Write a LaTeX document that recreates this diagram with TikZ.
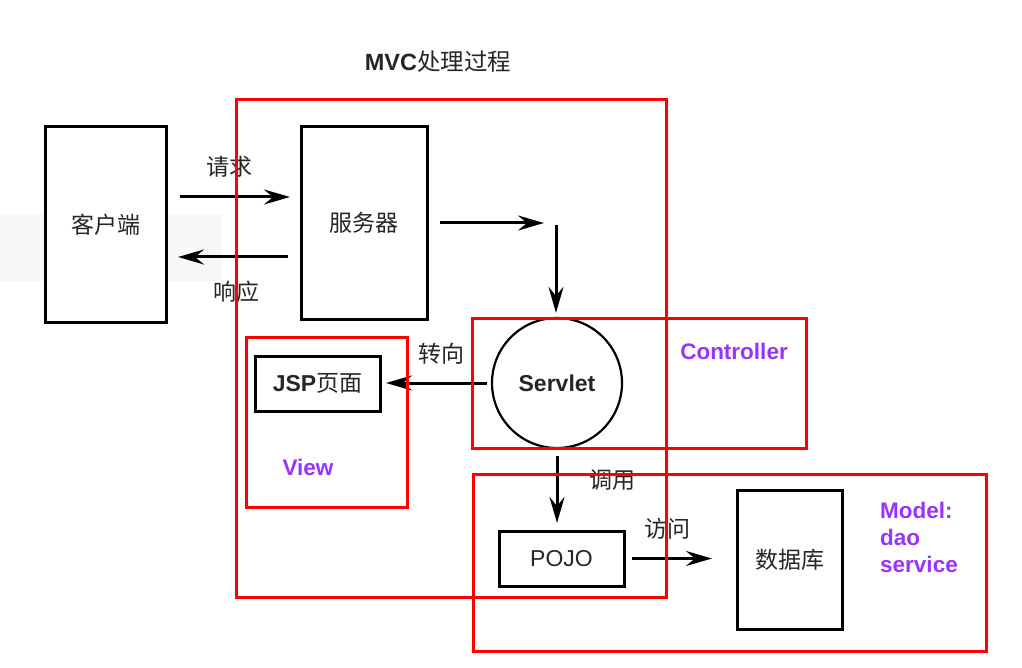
\documentclass[tikz,border=0pt]{standalone}
\usepackage{fontspec}
\setmainfont{Liberation Sans}
\newfontfamily\cjk{Noto Sans CJK SC}
\usetikzlibrary{arrows.meta}
\definecolor{mvcred}{RGB}{255,0,0}
\definecolor{mvcpurple}{RGB}{153,51,255}
\begin{document}
\begin{tikzpicture}[x=1pt,y=-1pt,
  box/.style={draw=black,line width=3pt,inner sep=0pt,outer sep=0pt,fill=white},
  redbox/.style={draw=mvcred,line width=3pt},
  arr/.style={-{Stealth[length=26pt,width=15pt,inset=9pt]},line width=3pt},
  cn/.style={font=\cjk\fontsize{23}{27}\selectfont,text=black!85},
  lat/.style={font=\bfseries\fontsize{23}{27}\selectfont,text=black!85},
  role/.style={font=\bfseries\fontsize{22.5}{27}\selectfont,text=mvcpurple,align=left,inner sep=0pt}]
\useasboundingbox (0,0) rectangle (1022,668);
\fill[white] (0,0) rectangle (1022,668);
\fill[black!3] (0,214) rectangle (222,281);

% title
\node (title) at (438,62) {\fontsize{23.5}{27}\selectfont\bfseries\color{black!85}MVC{\cjk\mdseries 处理过程}};

% black boxes
\node[box,minimum width=121pt,minimum height=195pt,cn] (client) at (105.5,224.5) {客户端};
\node[box,minimum width=126pt,minimum height=192pt,cn] (server) at (364,223) {服务器};
\node[draw=black,line width=2.2pt,circle,minimum size=130pt,inner sep=0pt,lat,fill=white] (servlet) at (557,383) {Servlet};
\node[box,minimum width=125pt,minimum height=55pt,lat] (jsp) at (317.5,383.5) {JSP{\cjk\mdseries 页面}};
\node[box,minimum width=125pt,minimum height=55pt,font=\fontsize{23}{27}\selectfont,text=black!85] (pojo) at (561.5,558.5) {POJO};
\node[box,minimum width=105pt,minimum height=139pt,cn] (db) at (789.5,559.5) {数据库};

% connectors
\draw[arr] ([xshift=14pt,yshift=27.5pt]client.east) -- ([xshift=-11pt,yshift=26pt]server.west);
\node[cn] (lreq) at (229,167) {请求};
\draw[arr] ([xshift=-13pt,yshift=-34pt]server.west) -- ([xshift=12pt,yshift=-32.5pt]client.east);
\node[cn] (lres) at (236,292) {响应};
\coordinate (turn) at (544,223);
\draw[arr] ([xshift=13pt]server.east) -- (turn);
\coordinate (down) at (556,225);
\draw[arr] (down) -- ([xshift=-1pt,yshift=4pt]servlet.north);
\draw[arr] ([xshift=-4pt]servlet.west) -- ([xshift=6pt,yshift=0.5pt]jsp.east);
\node[cn] (lfwd) at (441,354) {转向};
\draw[arr] ([yshift=-7pt]servlet.south) -- ([yshift=8pt]servlet.south |- pojo.north);
\node[cn] (lcall) at (612,480) {调用};
\draw[arr] ([xshift=8pt]pojo.east) -- ([xshift=-25pt]pojo.east -| db.west);
\node[cn] (lacc) at (667,529) {访问};

% red frames
\draw[redbox] (236,100) rectangle (666,597);
\draw[redbox] (472,318) rectangle (806,448);
\draw[redbox] (246,337) rectangle (407,507);
\draw[redbox] (473,474) rectangle (986,651);

% role labels
\node[role] (ctrl) at (734,351) {Controller};
\node[role] (view) at (308,467) {View};
\node[role,anchor=north west] (model) at (880,502) {Model:\\dao\\service};
\end{tikzpicture}
\end{document}
